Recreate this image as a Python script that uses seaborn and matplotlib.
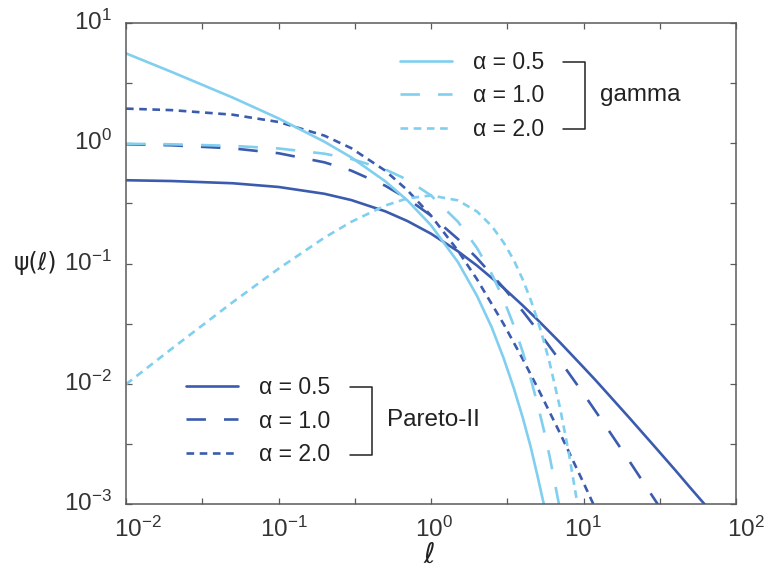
import numpy as np
import pandas as pd
import matplotlib
matplotlib.use("Agg")
import matplotlib.pyplot as plt
from matplotlib.lines import Line2D
from matplotlib.ticker import FixedLocator, FuncFormatter, NullFormatter
from matplotlib.transforms import ScaledTranslation
import seaborn as sns

# ---- data ----
gamma_x = [0.01, 0.02, 0.05, 0.1, 0.2, 0.3, 0.5, 0.7, 1.0, 1.5, 2.0, 2.5, 3.0, 3.5, 4.0, 4.5, 5.0, 5.5, 6.0, 7.0, 8.0, 9.0, 10.0]
gamma_a05 = [5.59, 3.91, 2.40, 1.61, 1.03, 0.763, 0.484, 0.335, 0.208, 0.103, 0.054, 0.0295, 0.0162, 0.0091, 0.0052, 0.0030, 0.0017, 0.00099, 0.00057, None, None, None, None]
gamma_a10 = [0.990, 0.980, 0.951, 0.905, 0.819, 0.741, 0.607, 0.497, 0.368, 0.223, 0.135, 0.082, 0.0498, 0.0302, 0.0183, 0.0111, 0.00674, 0.0041, 0.00248, 0.00091, 0.000335, None, None]
gamma_a20 = [0.0099, 0.0196, 0.0476, 0.0905, 0.164, 0.222, 0.303, 0.348, 0.368, 0.335, 0.271, 0.205, 0.149, 0.106, 0.0733, 0.050, 0.0337, 0.0225, 0.0149, 0.00638, 0.00268, 0.00111, 0.000454]

pareto_x = [0.01, 0.02, 0.05, 0.1, 0.2, 0.3, 0.5, 0.7, 1.0, 1.5, 2.0, 3.0, 4.0, 5.0, 7.0, 10.0, 12.0, 15.0, 20.0, 30.0, 40.0, 50.0, 60.0, 70.0]
pareto_a05 = [0.4925, 0.485, 0.465, 0.433, 0.380, 0.337, 0.272, 0.2256, 0.177, 0.1265, 0.0962, 0.0625, 0.0447, 0.034, 0.0221, 0.0137, 0.0107, 0.00781, 0.0052, 0.0029, 0.00191, 0.00137, 0.00105, 0.00084]
pareto_a10 = [0.980, 0.961, 0.907, 0.826, 0.694, 0.592, 0.444, 0.346, 0.25, 0.16, 0.111, 0.0625, 0.04, 0.0278, 0.0156, 0.00826, 0.0059, 0.0039, 0.00227, 0.00104, 0.000595, None, None, None]
pareto_a20 = [1.941, 1.885, 1.728, 1.503, 1.157, 0.910, 0.593, 0.407, 0.25, 0.128, 0.0741, 0.03125, 0.016, 0.00926, 0.0039, 0.0015, 0.00091, 0.00049, None, None, None, None, None, None]

alpha_labels = ["\u03b1 = 0.5", "\u03b1 = 1.0", "\u03b1 = 2.0"]
family_names = ["gamma", "Pareto-II"]
xtick_exps = [-2, -1, 0, 1, 2]
ytick_exps = [-3, -2, -1, 0, 1]

# ---- style ----
sns.set_style("white")
plt.rcParams["font.family"] = ["Liberation Sans", "DejaVu Sans"]
plt.rcParams["mathtext.fontset"] = "custom"
plt.rcParams["mathtext.rm"] = "Liberation Sans"
plt.rcParams["lines.scale_dashes"] = False

LIGHT = "#80cfef"
DARK = "#3b5bae"
LW = 1.9
styles = ["-", (0, (14, 13)), (0, (5.5, 4))]

W, H = 772, 571
fig = plt.figure(figsize=(W / 100, H / 100), dpi=100)
ax = fig.add_axes([126 / W, 1 - 504 / H, (736 - 126) / W, (504 - 23) / H])

def draw(xs, ys, color, ls):
    df = pd.DataFrame({"x": xs, "y": ys}).dropna()
    sns.lineplot(data=df, x="x", y="y", color=color, linewidth=LW, linestyle=ls,
                 estimator=None, sort=False, ax=ax)

for ys, ls in zip([pareto_a05, pareto_a10, pareto_a20], styles):
    draw(pareto_x, ys, DARK, ls)
for ys, ls in zip([gamma_a05, gamma_a10, gamma_a20], styles):
    draw(gamma_x, ys, LIGHT, ls)

ax.set_xscale("log")
ax.set_yscale("log")
ax.set_xlim(1e-2, 1e2)
ax.set_ylim(1e-3, 1e1)

fmt = FuncFormatter(lambda v, p: r"$\mathregular{10^{%d}}$" % int(round(np.log10(v))))
ax.xaxis.set_major_locator(FixedLocator([10.0 ** e for e in xtick_exps]))
ax.yaxis.set_major_locator(FixedLocator([10.0 ** e for e in ytick_exps]))
ax.xaxis.set_minor_locator(FixedLocator([10.0 ** (e + 0.5) for e in xtick_exps[:-1]]))
ax.yaxis.set_minor_locator(FixedLocator([10.0 ** (e + 0.5) for e in ytick_exps[:-1]]))
ax.xaxis.set_major_formatter(fmt)
ax.yaxis.set_major_formatter(fmt)
ax.xaxis.set_minor_formatter(NullFormatter())
ax.yaxis.set_minor_formatter(NullFormatter())

spine_col = "#5a5a5a"
for s in ax.spines.values():
    s.set_color(spine_col)
    s.set_linewidth(1.1)
ax.tick_params(which="both", direction="in", bottom=True, left=True, top=True, right=True,
               length=4.5, width=0.9, color=spine_col, labelsize=17.5, labelcolor="#333333")
ax.tick_params(axis="x", which="major", pad=8)
ax.tick_params(axis="y", which="major", pad=10)

# small per-label shifts (pixels) to mimic the reference placement
x_shift = [12, 5, 3, -1, 10]
for lab, dx in zip(ax.get_xticklabels(), x_shift):
    lab.set_transform(lab.get_transform() + ScaledTranslation(dx / 100, -2 / 100, fig.dpi_scale_trans))
for lab in ax.get_yticklabels():
    lab.set_transform(lab.get_transform() + ScaledTranslation(0, 3 / 100, fig.dpi_scale_trans))

ax.set_xlabel("")
ax.set_ylabel("")
fig.text(429 / W, 1 - 555 / H, "\u2113", ha="center", va="center", fontsize=20,
         color="#222222", family=["DejaVu Sans"])
fig.text(14 / W, 1 - 263 / H, "\u03c8(\u2113)", ha="left", va="center", fontsize=17,
         color="#222222", family=["DejaVu Sans"])

# ---- legends ----
FS = 16.5
def make_legend(color, cx, cy):
    handles = [Line2D([], [], color=color, lw=LW, linestyle=ls) for ls in styles]
    leg = ax.legend(handles, alpha_labels, loc="center left",
                    bbox_to_anchor=(cx / W, 1 - cy / H), bbox_transform=fig.transFigure,
                    frameon=False, fontsize=FS, handlelength=2.27, handletextpad=0.9,
                    labelspacing=0.44, borderpad=0, borderaxespad=0)
    for t in leg.get_texts():
        t.set_color("#222222")
    return leg

leg1 = make_legend(LIGHT, 400, 96)
ax.add_artist(leg1)
leg2 = make_legend(DARK, 186, 421)

def bracket(x0, x1, y0, y1):
    xs = [x0 / W, x1 / W, x1 / W, x0 / W]
    ys = [1 - y0 / H, 1 - y0 / H, 1 - y1 / H, 1 - y1 / H]
    fig.add_artist(Line2D(xs, ys, color="#222222", lw=1.1, transform=fig.transFigure))

bracket(563, 585, 62, 129)
bracket(350, 372, 387, 455)
fig.text(600 / W, 1 - 95 / H, family_names[0], ha="left", va="center", fontsize=17.5, color="#222222")
fig.text(387 / W, 1 - 420 / H, family_names[1], ha="left", va="center", fontsize=17.5, color="#222222")

fig.savefig("out.png", dpi=100)
